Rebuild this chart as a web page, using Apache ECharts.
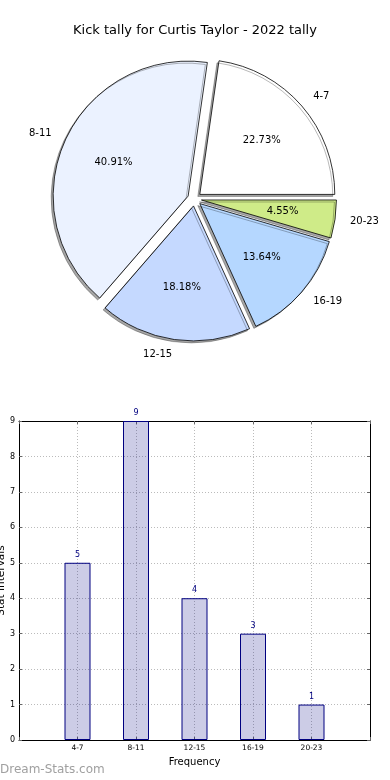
<!DOCTYPE html>
<html>
<head>
<meta charset="utf-8">
<style>
html,body{margin:0;padding:0;background:#fff;}
#chart{width:390px;height:780px;}
</style>
<script src="https://cdn.jsdelivr.net/npm/echarts@6/dist/echarts.min.js"></script>
</head>
<body>
<div id="chart"></div>
<script>
// ---- data ----
const categories = ['4-7', '8-11', '12-15', '16-19', '20-23'];
const tallyValues = [5, 9, 4, 3, 1];
const sliceColors = ['#ffffff', '#ebf2ff', '#c5d9ff', '#b5d7ff', '#cfeb88'];
const yTicks = [0, 1, 2, 3, 4, 5, 6, 7, 8, 9];

const FONT = 'DejaVu Sans';
const total = tallyValues.reduce((a, b) => a + b, 0);
const pieCenter = [194.5, 199];
const pieR = 135;

const pieData = categories.map((c, i) => ({
  name: c, value: tallyValues[i], selected: true,
  itemStyle: { color: sliceColors[i] }
}));
const pieLabelData = categories.map((c, i) => ({
  name: c, value: tallyValues[i], selected: true
}));
const barData = categories.map((c, i) => [i + 1, tallyValues[i]]);

const chart = echarts.init(document.getElementById('chart'), null, { renderer: 'canvas' });
chart.setOption({
  animation: false,
  backgroundColor: '#fff',
  textStyle: { fontFamily: FONT },
  title: {
    text: 'Kick tally for Curtis Taylor - 2022 tally',
    left: 'center', top: 19,
    textStyle: { fontFamily: FONT, fontSize: 13, fontWeight: 'normal', color: '#000' }
  },
  graphic: [{
    type: 'text', left: 0, top: 764,
    style: { text: 'Dream-Stats.com', fontFamily: FONT, fontSize: 12, fill: '#a0a0a0' }
  }],
  grid: [{ left: 19, right: 20, top: 421, bottom: 40, show: false,
    containLabel: false, outerBoundsMode: 'none' }],
  xAxis: [{
    type: 'value', gridIndex: 0, min: 0, max: categories.length + 1, interval: 1,
    position: 'bottom',
    name: 'Frequency', nameLocation: 'middle', nameGap: 17, nameMoveOverlap: false,
    nameTextStyle: { fontFamily: FONT, fontSize: 10, color: '#000' },
    axisLine: { show: true, onZero: false, lineStyle: { color: '#000', width: 1 } },
    axisTick: { show: true, inside: true, length: 3, lineStyle: { color: '#666' } },
    axisLabel: {
      fontFamily: FONT, fontSize: 7.5, color: '#000', margin: 4,
      formatter: v => categories[v - 1] || ''
    },
    splitLine: { show: true, showMinLine: false, showMaxLine: false,
      lineStyle: { color: '#bbbbbb', type: [1, 2], width: 1 } }
  }, {
    type: 'value', gridIndex: 0, min: 0, max: categories.length + 1, interval: 1,
    position: 'top',
    axisLine: { show: true, onZero: false, lineStyle: { color: '#000', width: 1 } },
    axisTick: { show: true, inside: true, length: 3, lineStyle: { color: '#666' } },
    axisLabel: { show: false }, splitLine: { show: false }
  }],
  yAxis: [{
    type: 'value', gridIndex: 0, min: yTicks[0], max: yTicks[yTicks.length - 1], interval: 1,
    position: 'left',
    name: 'Stat Intervals', nameLocation: 'middle', nameGap: 12, nameRotate: 90,
    nameMoveOverlap: false,
    nameTextStyle: { fontFamily: FONT, fontSize: 10.5, color: '#000' },
    axisLine: { show: true, onZero: false, lineStyle: { color: '#000', width: 1 } },
    axisTick: { show: true, inside: true, length: 3, lineStyle: { color: '#666' } },
    axisLabel: { fontFamily: FONT, fontSize: 8, color: '#000', margin: 4 },
    splitLine: { show: true, showMinLine: false, showMaxLine: false,
      lineStyle: { color: '#bbbbbb', type: [1, 2], width: 1 } }
  }, {
    type: 'value', gridIndex: 0, min: yTicks[0], max: yTicks[yTicks.length - 1], interval: 1,
    position: 'right',
    axisLine: { show: true, onZero: false, lineStyle: { color: '#000', width: 1 } },
    axisTick: { show: true, inside: true, length: 3, lineStyle: { color: '#666' } },
    axisLabel: { show: false }, splitLine: { show: false }
  }],
  series: [{
    type: 'pie',
    center: pieCenter, radius: pieR,
    startAngle: 0, clockwise: false,
    selectedMode: 'multiple', selectedOffset: 7,
    avoidLabelOverlap: false,
    silent: true,
    emphasis: { disabled: true },
    itemStyle: {
      borderColor: '#000', borderWidth: 0.8,
      shadowColor: 'rgba(0,0,0,0.35)', shadowBlur: 0, shadowOffsetX: -2, shadowOffsetY: 2
    },
    label: {
      show: true, position: 'outside', formatter: '{b}',
      fontFamily: FONT, fontSize: 10, color: '#000', distanceToLabelLine: 0
    },
    labelLine: { show: false, length: 15, length2: 0 },
    data: pieData
  }, {
    type: 'pie',
    center: pieCenter, radius: [0, 158],
    startAngle: 0, clockwise: false,
    selectedMode: 'multiple', selectedOffset: 7,
    avoidLabelOverlap: false,
    silent: true,
    emphasis: { disabled: true },
    itemStyle: { color: 'rgba(0,0,0,0)', borderWidth: 0 },
    label: {
      show: true, position: 'inside',
      formatter: p => (p.value / total * 100).toFixed(2) + '%',
      fontFamily: FONT, fontSize: 10, color: '#000'
    },
    labelLine: { show: false },
    data: pieLabelData
  }, {
    type: 'bar',
    xAxisIndex: 0, yAxisIndex: 0,
    barWidth: 26,
    silent: true,
    itemStyle: { color: 'rgba(0,0,128,0.2)', borderColor: '#000080', borderWidth: 1 },
    label: { show: true, position: 'top', distance: 4, fontFamily: FONT, fontSize: 8, color: '#000080',
      formatter: p => p.value[1] },
    data: barData
  }]
});
</script>
</body>
</html>
